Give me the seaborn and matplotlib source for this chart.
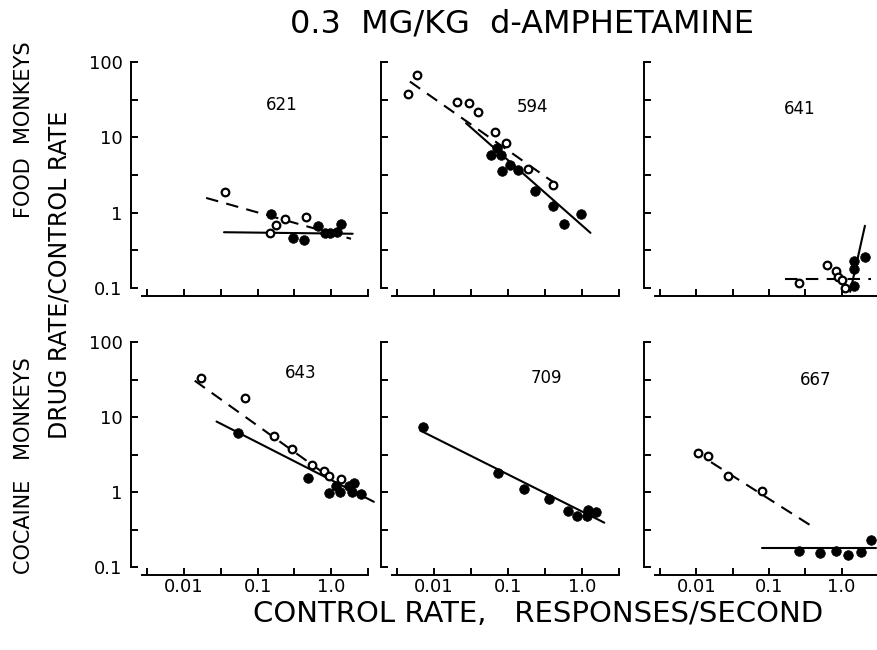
import numpy as np
import pandas as pd
import matplotlib
matplotlib.use("Agg")
import matplotlib.pyplot as plt
import seaborn as sns

# ---------------- data ----------------
monkeys = ["621", "594", "641", "643", "709", "667"]

# 621 (food)
m621_open_x = [0.036, 0.178, 0.234, 0.45, 0.149]
m621_open_y = [1.87, 0.69, 0.82, 0.88, 0.54]
m621_fill_x = [0.154, 0.30, 0.43, 0.66, 0.82, 0.96, 1.2, 1.34]
m621_fill_y = [0.96, 0.46, 0.44, 0.67, 0.54, 0.54, 0.55, 0.71]
m621_solid_x = [0.035, 1.96]
m621_solid_y = [0.55, 0.525]
m621_dash_x = [0.020, 1.86]
m621_dash_y = [1.57, 0.45]

# 594 (food)
m594_open_x = [0.0044, 0.0059, 0.0204, 0.0294, 0.039, 0.066, 0.093, 0.185, 0.40]
m594_open_y = [38, 68, 29.5, 28.3, 21.4, 11.8, 8.5, 3.8, 2.36]
m594_fill_x = [0.071, 0.058, 0.081, 0.107, 0.083, 0.135, 0.234, 0.40, 0.566, 0.98]
m594_fill_y = [7.3, 5.76, 5.9, 4.24, 3.55, 3.67, 1.92, 1.24, 0.70, 0.95]
m594_solid_x = [0.027, 1.3]
m594_solid_y = [15.4, 0.54]
m594_dash_x = [0.0047, 0.55]
m594_dash_y = [55, 2.07]

# 641 (food)
m641_open_x = [0.257, 0.63, 0.84, 0.89, 1.0, 1.1]
m641_open_y = [0.115, 0.20, 0.17, 0.14, 0.128, 0.10]
m641_fill_x = [1.47, 1.48, 1.5, 2.1]
m641_fill_y = [0.107, 0.178, 0.23, 0.256]
m641_solid_x = [1.31, 2.09]
m641_solid_y = [0.089, 0.67]
m641_dash_x = [0.165, 2.5]
m641_dash_y = [0.132, 0.132]

# 643 (cocaine)
m643_open_x = [0.0173, 0.068, 0.165, 0.29, 0.55, 0.80, 0.94, 1.36]
m643_open_y = [33, 17.8, 5.6, 3.75, 2.29, 1.92, 1.62, 1.49]
m643_fill_x = [0.055, 0.49, 0.92, 1.18, 1.33, 1.73, 2.06, 1.92, 2.55]
m643_fill_y = [6.06, 1.52, 0.97, 1.19, 1.0, 1.19, 1.31, 1.0, 0.94]
m643_solid_x = [0.0277, 3.8]
m643_solid_y = [8.7, 0.74]
m643_dash_x = [0.014, 0.89]
m643_dash_y = [30.5, 1.65]

# 709 (cocaine)
m709_open_x = []
m709_open_y = []
m709_fill_x = [0.0071, 0.074, 0.163, 0.36, 0.64, 0.86, 1.17, 1.22, 1.56]
m709_fill_y = [7.4, 1.79, 1.1, 0.81, 0.56, 0.48, 0.48, 0.58, 0.54]
m709_solid_x = [0.0065, 2.0]
m709_solid_y = [6.6, 0.39]
m709_dash_x = []
m709_dash_y = []

# 667 (cocaine)
m667_open_x = [0.0105, 0.0144, 0.0275, 0.080]
m667_open_y = [3.3, 3.0, 1.65, 1.04]
m667_fill_x = [0.26, 0.50, 0.84, 1.22, 1.82, 2.52]
m667_fill_y = [0.165, 0.154, 0.165, 0.145, 0.157, 0.23]
m667_solid_x = [0.08, 2.97]
m667_solid_y = [0.178, 0.178]
m667_dash_x = [0.0159, 0.366]
m667_dash_y = [2.5, 0.363]

y_tick_labels = ["0.1", "", "1", "", "10", "", "100"]
x_tick_labels = ["", "0.01", "", "0.1", "", "1.0", ""]
title_text = "0.3  MG/KG  d-AMPHETAMINE"
xlabel_text = "CONTROL RATE,   RESPONSES/SECOND"
ylabel_text = "DRUG RATE/CONTROL RATE"
row_labels = ["FOOD  MONKEYS", "COCAINE   MONKEYS"]

panels = [
    (m621_open_x, m621_open_y, m621_fill_x, m621_fill_y, m621_solid_x, m621_solid_y, m621_dash_x, m621_dash_y),
    (m594_open_x, m594_open_y, m594_fill_x, m594_fill_y, m594_solid_x, m594_solid_y, m594_dash_x, m594_dash_y),
    (m641_open_x, m641_open_y, m641_fill_x, m641_fill_y, m641_solid_x, m641_solid_y, m641_dash_x, m641_dash_y),
    (m643_open_x, m643_open_y, m643_fill_x, m643_fill_y, m643_solid_x, m643_solid_y, m643_dash_x, m643_dash_y),
    (m709_open_x, m709_open_y, m709_fill_x, m709_fill_y, m709_solid_x, m709_solid_y, m709_dash_x, m709_dash_y),
    (m667_open_x, m667_open_y, m667_fill_x, m667_fill_y, m667_solid_x, m667_solid_y, m667_dash_x, m667_dash_y),
]
label_pos = [(0.62, 0.81), (0.62, 0.80), (0.65, 0.79), (0.70, 0.86), (0.68, 0.84), (0.72, 0.83)]

# ---------------- drawing ----------------
sns.set_theme(style="ticks")
plt.rcParams["font.family"] = ["DejaVu Sans"]
plt.rcParams["text.color"] = "black"
plt.rcParams["xtick.labelcolor"] = "black"
plt.rcParams["ytick.labelcolor"] = "black"

W, H = 878, 650
fig = plt.figure(figsize=(W / 100, H / 100), dpi=100)

col_px = [(142, 368), (392, 619), (655, 878)]
row_px = [(62, 288), (342, 567)]

all_y = [10 ** (k / 2) for k in range(-2, 5)]
all_x = [10 ** (k / 2) for k in range(-5, 2)]

for i, (ox, oy, fx, fy, sx, sy, dx, dy) in enumerate(panels):
    r, c = divmod(i, 3)
    x0, x1 = col_px[c]
    y0, y1 = row_px[r]
    ax = fig.add_axes([x0 / W, 1 - y1 / H, (x1 - x0) / W, (y1 - y0) / H])
    ax.set_xscale("log")
    ax.set_yscale("log")

    if len(sx):
        sns.lineplot(x=sx, y=sy, ax=ax, color="black", lw=1.5, clip_on=False)
    if len(dx):
        sns.lineplot(x=dx, y=dy, ax=ax, color="black", lw=1.5, clip_on=False,
                     linestyle=(0, (6, 4)))
    if len(fx):
        sns.scatterplot(x=fx, y=fy, ax=ax, color="black", s=48, edgecolor="black",
                        linewidth=0.5, zorder=5, clip_on=False)
    if len(ox):
        sns.scatterplot(x=ox, y=oy, ax=ax, facecolor="white", s=30, edgecolor="black",
                        linewidth=1.6, zorder=6, clip_on=False)

    ax.set_xlim(10 ** -2.57, 10 ** 0.5)
    ax.set_ylim(0.1, 100)
    ax.set_xticks(all_x)
    ax.set_yticks(all_y)
    ax.minorticks_off()
    ax.tick_params(direction="in", length=5, width=1.4, colors="black",
                   labelcolor="black", labelsize=13)
    ax.tick_params(axis="y", pad=6)
    ax.tick_params(axis="x", pad=2)
    ax.set_yticklabels(y_tick_labels if c == 0 else [])
    ax.set_xticklabels(x_tick_labels if r == 1 else [])
    for sp in ("left", "bottom"):
        ax.spines[sp].set_linewidth(1.4)
        ax.spines[sp].set_color("black")
    sns.despine(ax=ax, offset=dict(left=8, bottom=6))
    ax.text(label_pos[i][0], label_pos[i][1], monkeys[i], transform=ax.transAxes,
            ha="center", va="center", fontsize=12, color="black")
    ax.set_facecolor("none")

fig.text(522 / W, 1 - 24 / H, title_text, ha="center", va="center", fontsize=23, color="black")
fig.text(538 / W, 1 - 614 / H, xlabel_text, ha="center", va="center", fontsize=21, color="black")
fig.text(60 / W, 1 - 275 / H, ylabel_text, ha="center", va="center", rotation=90,
         fontsize=17, color="black")
fig.text(24 / W, 1 - 130 / H, row_labels[0], ha="center", va="center", rotation=90,
         fontsize=15, color="black")
fig.text(24 / W, 1 - 466 / H, row_labels[1], ha="center", va="center", rotation=90,
         fontsize=15, color="black")

fig.savefig("out.png", dpi=100, facecolor="white")
